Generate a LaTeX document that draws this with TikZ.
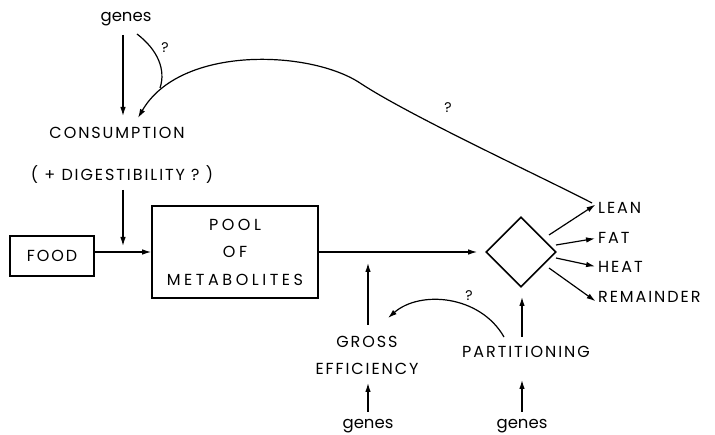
\documentclass[tikz,border=0pt]{standalone}
\usepackage{fontspec}
\setmainfont{Poppins}[LetterSpace=12]
\newfontfamily\lowfont{Poppins}
\newfontfamily\widefont{Poppins}[LetterSpace=22]
\usetikzlibrary{arrows.meta,shapes.geometric}
\begin{document}
\begin{tikzpicture}[x=1pt,y=-1pt,
  font=\fontsize{16}{19}\selectfont,
  lbl/.style={inner sep=0pt},
  gen/.style={inner sep=0pt,font=\lowfont\fontsize{16.5}{19}\selectfont},
  boxed/.style={draw,line width=1.6pt,inner sep=0pt,align=center},
  arr/.style={line width=1.2pt,-{Latex[length=9pt,width=5.5pt]}},
  plain/.style={line width=1.2pt},
  q/.style={inner sep=0pt,font=\lowfont\fontsize{14}{16}\selectfont}]
\useasboundingbox (0,0) rectangle (715,435);

% text nodes
\node[gen] (genesT) at (126,19) {genes};
\node[lbl] (cons) at (117,133) {CONSUMPTION};
\node[lbl] (dig) at (122,175) {( + DIGESTIBILITY ? )};
\node[boxed,minimum width=84pt,minimum height=40pt] (food) at (52,256) {FOOD};
\node[boxed,minimum width=166pt,minimum height=92pt,
      font=\widefont\fontsize{16}{27.5}\selectfont] (pool) at (235,252) {POOL\\OF\\METABOLITES};
\node[draw,diamond,line width=1.6pt,minimum width=70pt,minimum height=70pt,
      inner sep=0pt] (dia) at (521,252) {};
\node[lbl,anchor=west] (lean) at (598,208) {LEAN};
\node[lbl,anchor=west] (fat) at (598,238) {FAT};
\node[lbl,anchor=west] (heat) at (598,267) {HEAT};
\node[lbl,anchor=west] (rem) at (598,297) {REMAINDER};
\node[lbl,align=center,font=\fontsize{16}{27}\selectfont] (gross) at (367,355) {GROSS\\EFFICIENCY};
\node[lbl] (part) at (526,352) {PARTITIONING};
\node[gen] (genesL) at (368,426) {genes};
\node[gen] (genesR) at (522,426) {genes};

% joins and tips
\coordinate (jn) at (160,88);
\coordinate (cin) at (138,118);
\coordinate (lstart) at (592,203);

% consumption inputs
\draw[arr] (123,35) -- (123,116);
\draw[plain] (137,34) .. controls (158,50) and (166,70) .. (jn);
\draw[arr] (lstart) .. controls (542,177) and (410,116) .. (360,83)
  .. controls (310,50) and (180,45) .. (cin);
\node[q] at (165,48) {?};
\node[q] at (448,108) {?};

% main flow
\draw[arr] (123,190) -- (123,246);
\draw[arr] (pool.west -| food.east) -- (pool.west);
\draw[arr] (pool.east) -- ([xshift=-8pt]dia.west);

% outputs
\draw[arr,shorten >=3pt] (549,235) -- ([yshift=5pt]lean.west);
\draw[arr,shorten >=3pt] (556,245) -- (fat.west);
\draw[arr,shorten >=3pt] (556,258) -- (heat.west);
\draw[arr,shorten >=3pt] (549,268) -- ([yshift=-6pt]rem.west);

% efficiency and partitioning
\draw[arr] (368,325) -- (368,263);
\draw[arr] (368,412) -- (368,383);
\draw[arr] (522,337) -- (522,297);
\draw[arr] (522,412) -- (522,380);
\draw[arr] (504,337) .. controls (480,295) and (420,290) .. (388,318);
\node[q] at (469,296) {?};
\end{tikzpicture}
\end{document}
